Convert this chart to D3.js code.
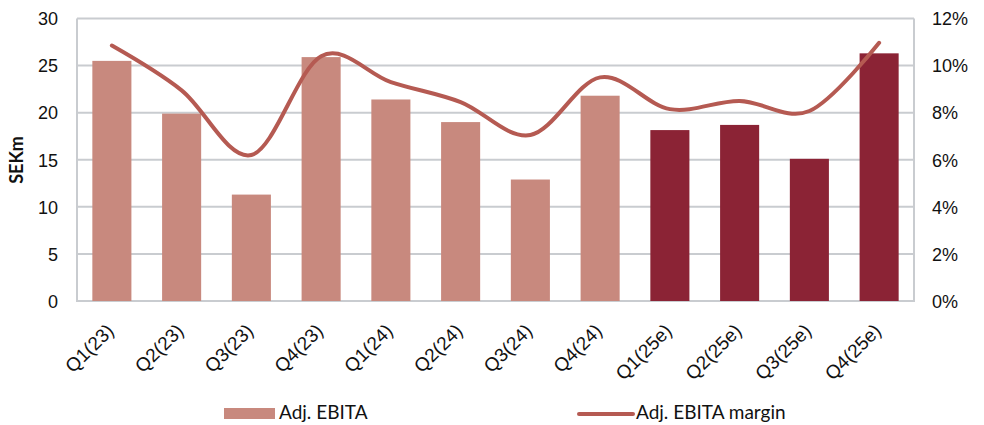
<!DOCTYPE html>
<html><head><meta charset="utf-8">
<script src="https://cdn.jsdelivr.net/npm/d3@7"></script>
<style>body{margin:0;background:#fff}svg{display:block;font-family:Lato,"Open Sans",sans-serif}</style>
</head><body><svg id="c" width="984" height="425"></svg>
<script>
const categories = ["Q1(23)","Q2(23)","Q3(23)","Q4(23)","Q1(24)","Q2(24)","Q3(24)","Q4(24)","Q1(25e)","Q2(25e)","Q3(25e)","Q4(25e)"];
const ebita = [25.5, 19.9, 11.3, 25.9, 21.4, 19.0, 12.9, 21.8, 18.15, 18.7, 15.1, 26.3];
const margin = [10.85, 8.95, 6.2, 10.4, 9.3, 8.45, 7.05, 9.5, 8.15, 8.5, 8.07, 10.97];
const estimate = [false,false,false,false,false,false,false,false,true,true,true,true];
const leftTicks = [0,5,10,15,20,25,30];
const rightTicks = [0,2,4,6,8,10,12];

const svg = d3.select("#c");
const L = 77, R = 914, T = 18.5, B = 301;
const x = d3.scaleBand().domain(categories).range([L, R]).paddingInner(0.44).paddingOuter(0.22);
const yL = d3.scaleLinear().domain([0,30]).range([B, T]);
const yR = d3.scaleLinear().domain([0,12]).range([B, T]);
const grid = "#c9ccd0";

// gridlines
svg.append("g").selectAll("line").data(leftTicks).join("line")
  .attr("x1", L).attr("x2", R).attr("y1", d=>yL(d)).attr("y2", d=>yL(d))
  .attr("stroke", grid).attr("stroke-width", 2);
svg.append("line").attr("x1", L).attr("x2", L).attr("y1", T).attr("y2", B+1).attr("stroke", grid).attr("stroke-width", 2);
svg.append("line").attr("x1", R).attr("x2", R).attr("y1", T).attr("y2", B+1).attr("stroke", grid).attr("stroke-width", 2);

// bars
svg.append("g").selectAll("rect").data(categories).join("rect")
  .attr("x", d=>x(d)).attr("width", x.bandwidth())
  .attr("y", (d,i)=>yL(ebita[i])).attr("height", (d,i)=>B - yL(ebita[i]))
  .attr("fill", (d,i)=> estimate[i] ? "#8b2335" : "#c8897e");

// line
const line = d3.line().x((d,i)=>x(categories[i]) + x.bandwidth()/2).y(d=>yR(d)).curve(d3.curveCardinal.tension(0));
svg.append("path").datum(margin).attr("d", line).attr("fill","none")
  .attr("stroke","#b55a52").attr("stroke-width",4).attr("stroke-linecap","round");

// left axis
const la = d3.axisLeft(yL).tickValues(leftTicks).tickSize(0).tickPadding(0);
const gL = svg.append("g").attr("transform", `translate(58,0)`).call(la);
gL.select(".domain").remove();
gL.selectAll("text").attr("font-size", 18).attr("fill","#111").attr("dy","0.35em");

// right axis
const ra = d3.axisRight(yR).tickValues(rightTicks).tickSize(0).tickPadding(0).tickFormat(d=>d+"%");
const gR = svg.append("g").attr("transform", `translate(932,0)`).call(ra);
gR.select(".domain").remove();
gR.selectAll("text").attr("font-size", 18).attr("fill","#111").attr("dy","0.35em");

// x labels
const ba = d3.axisBottom(x).tickSize(0).tickPadding(0);
const gB = svg.append("g").attr("transform", `translate(0,${B})`).call(ba);
gB.select(".domain").remove();
gB.selectAll("text").attr("font-size", 19).attr("fill","#111")
  .attr("text-anchor","end").attr("dy", null).attr("y", 0)
  .attr("transform", "translate(3,31) rotate(-45)");

// y title
svg.append("text").attr("transform","translate(23,160) rotate(-90)").attr("text-anchor","middle")
  .attr("font-size",18).attr("font-weight","bold").attr("fill","#111").text("SEKm");

// legend
svg.append("rect").attr("x",224).attr("y",408).attr("width",51).attr("height",11).attr("fill","#c8897e");
svg.append("text").attr("x",279).attr("y",419).attr("font-size",19).attr("fill","#111").text("Adj. EBITA");
svg.append("line").attr("x1",579).attr("x2",633).attr("y1",414).attr("y2",414).attr("stroke","#b55a52").attr("stroke-width",4).attr("stroke-linecap","round");
svg.append("text").attr("x",636).attr("y",419).attr("font-size",19).attr("fill","#111").text("Adj. EBITA margin");
</script></body></html>
